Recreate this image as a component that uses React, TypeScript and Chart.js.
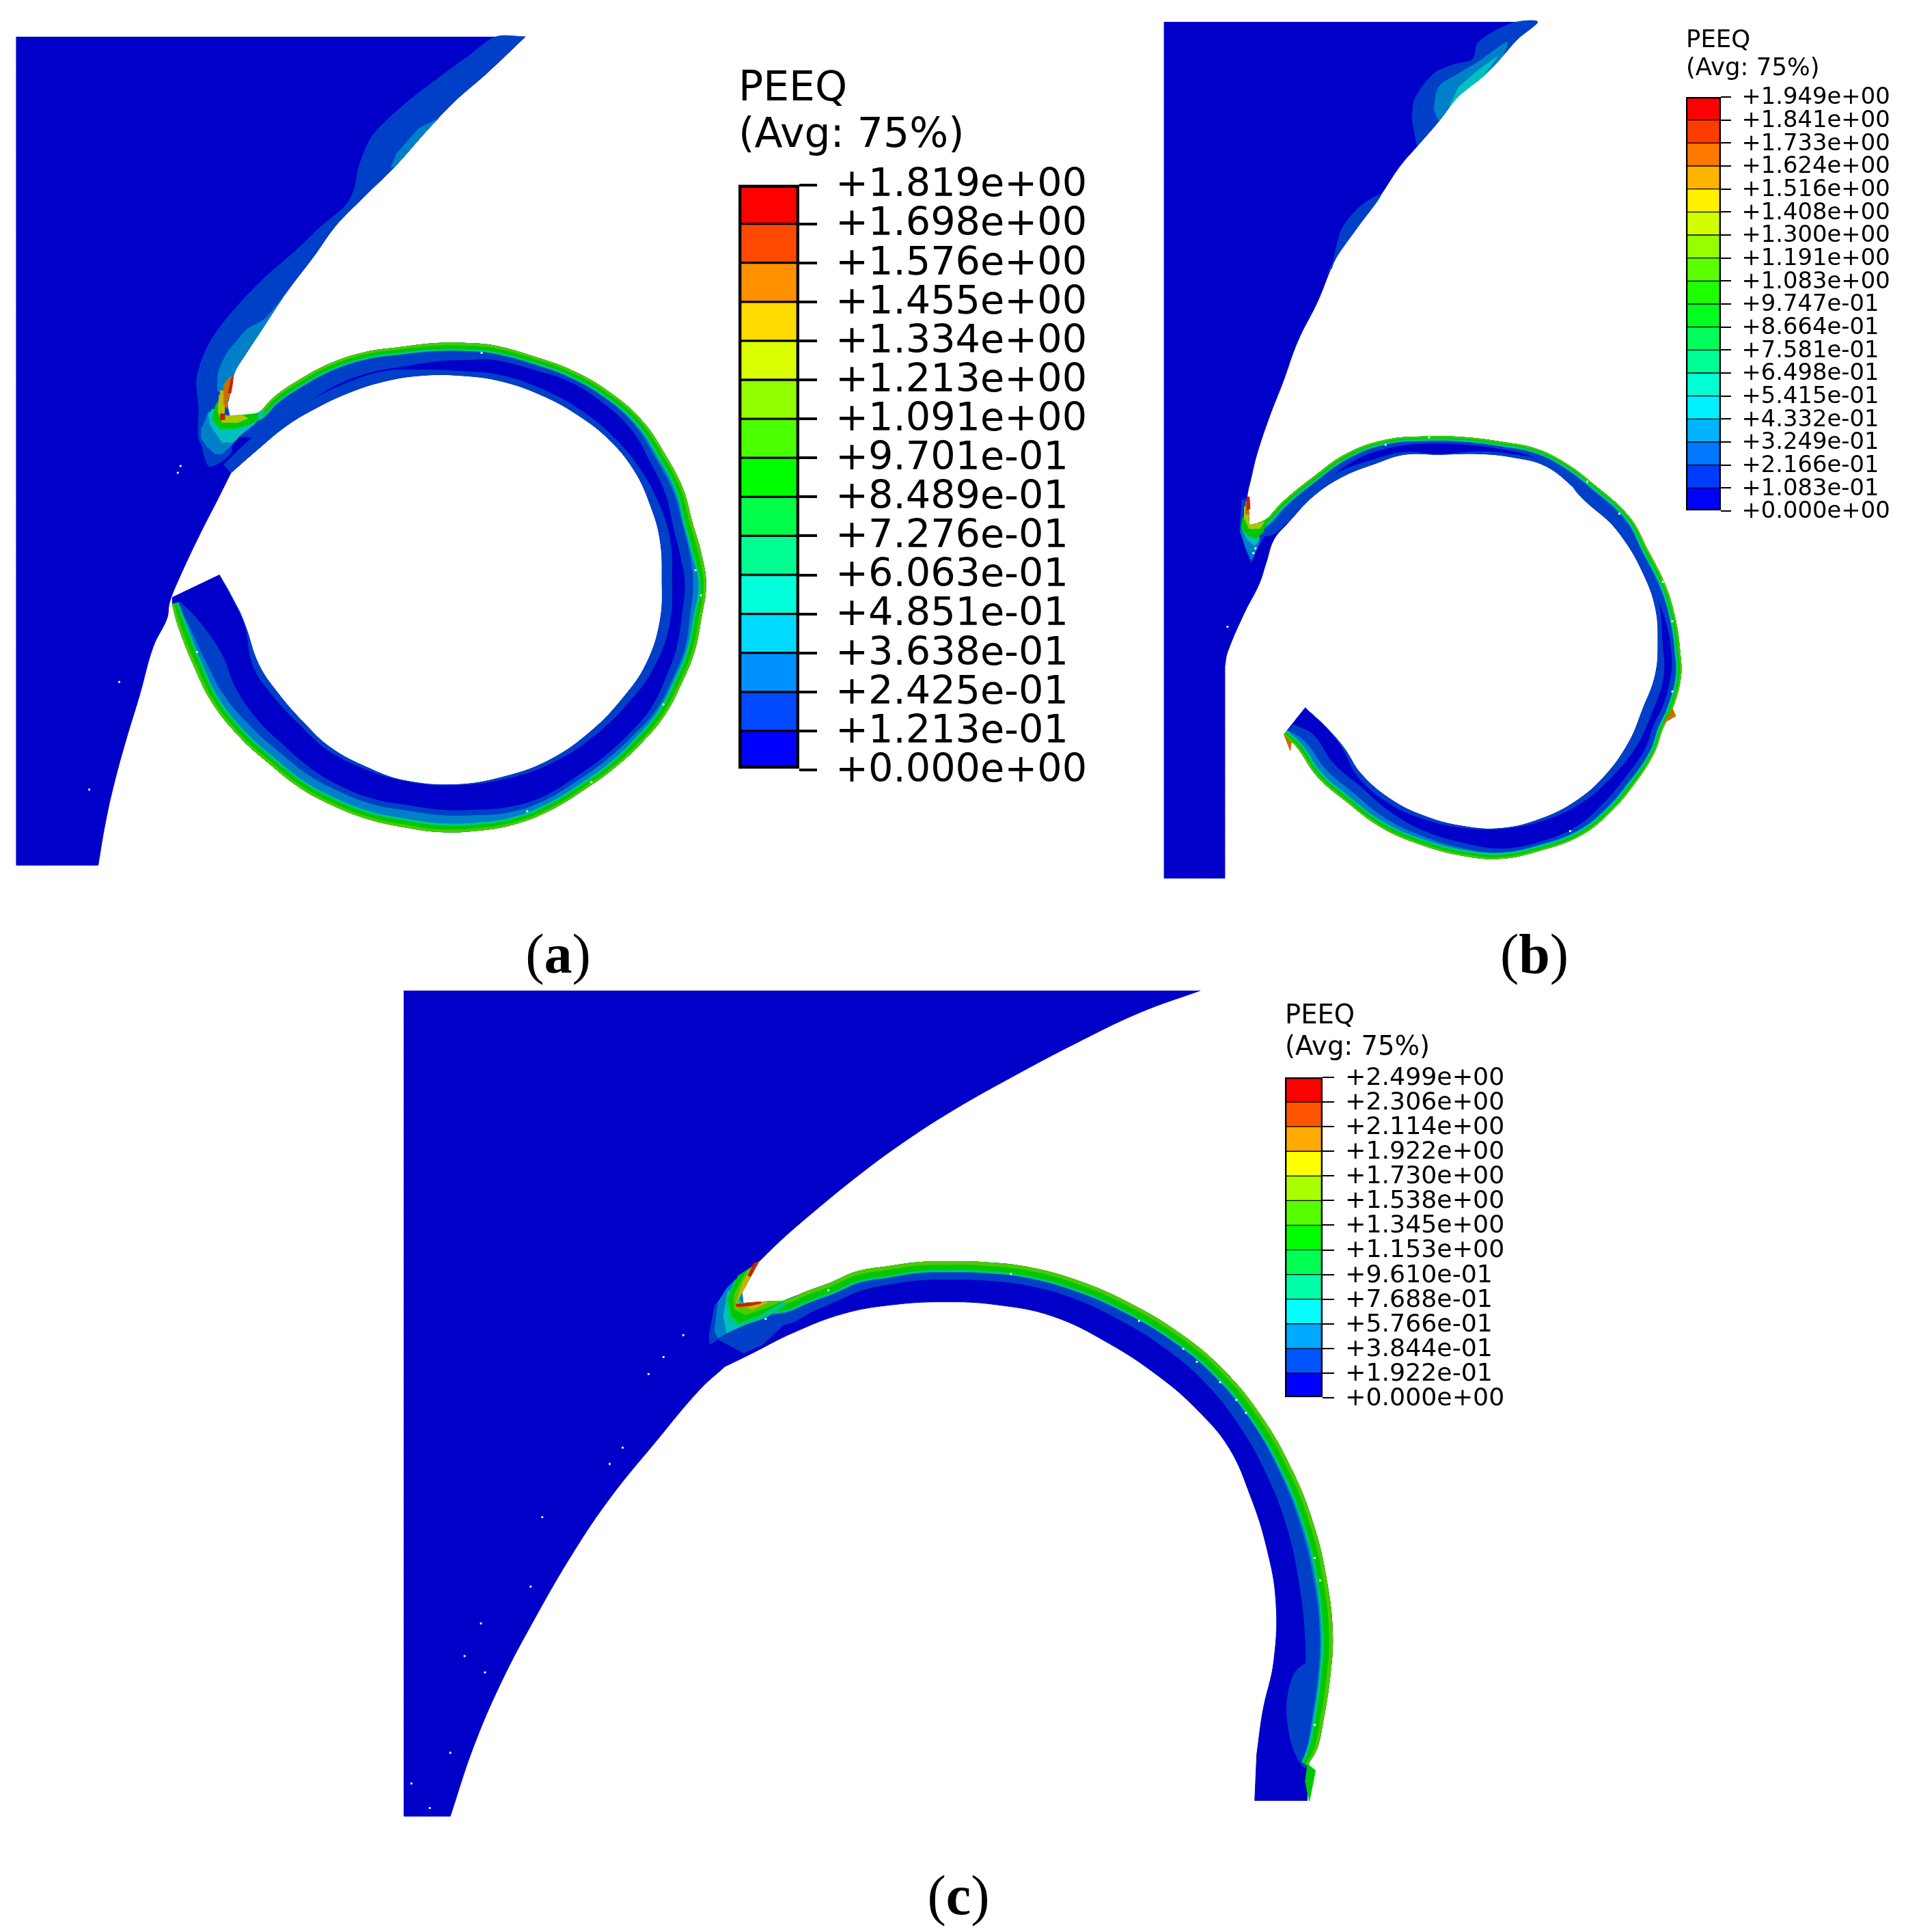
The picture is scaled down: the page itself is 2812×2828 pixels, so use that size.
import React, { useEffect, useRef } from "react";
import { Chart, registerables } from "chart.js";

Chart.register(...registerables);

type P = number[];

// ---------- colour contour bands ----------
const DARK = "#0000c8";
const BLUE = "#0040c8";
const SKY = "#0080c8";
const CYAN = "#00c0c0";
const TEAL = "#00c880";
const GREEN = "#00c800";
const LIME = "#50c800";
const OLIVE = "#aac800";
const YELLOW = "#c8b400";
const ORANGE = "#c87000";
const RED = "#c82000";

// ---------- legends ----------
const aLabels = ["+1.819e+00", "+1.698e+00", "+1.576e+00", "+1.455e+00", "+1.334e+00", "+1.213e+00", "+1.091e+00", "+9.701e-01", "+8.489e-01", "+7.276e-01", "+6.063e-01", "+4.851e-01", "+3.638e-01", "+2.425e-01", "+1.213e-01", "+0.000e+00"];
const bLabels = ["+1.949e+00", "+1.841e+00", "+1.733e+00", "+1.624e+00", "+1.516e+00", "+1.408e+00", "+1.300e+00", "+1.191e+00", "+1.083e+00", "+9.747e-01", "+8.664e-01", "+7.581e-01", "+6.498e-01", "+5.415e-01", "+4.332e-01", "+3.249e-01", "+2.166e-01", "+1.083e-01", "+0.000e+00"];
const cLabels = ["+2.499e+00", "+2.306e+00", "+2.114e+00", "+1.922e+00", "+1.730e+00", "+1.538e+00", "+1.345e+00", "+1.153e+00", "+9.610e-01", "+7.688e-01", "+5.766e-01", "+3.844e-01", "+1.922e-01", "+0.000e+00"];
const aColors = ["#ff0000", "#ff4900", "#ff9100", "#ffda00", "#daff00", "#91ff00", "#49ff00", "#00ff00", "#00ff49", "#00ff91", "#00ffda", "#00daff", "#0091ff", "#0049ff", "#0000ff"];
const bColors = ["#ff0000", "#ff3c00", "#ff7800", "#ffb400", "#fff000", "#d2ff00", "#96ff00", "#5aff00", "#1eff00", "#00ff1e", "#00ff5a", "#00ff96", "#00ffd2", "#00f0ff", "#00b4ff", "#0078ff", "#003cff", "#0000ff"];
const cColors = ["#ff0000", "#ff5500", "#ffaa00", "#ffff00", "#aaff00", "#55ff00", "#00ff00", "#00ff55", "#00ffaa", "#00ffff", "#00aaff", "#0055ff", "#0000ff"];

// ---------- panel (a) outline ----------
const aCorners: P[] = [[20, 1266], [20, 50]];
const aUpperEdge: P[] = [[767, 50], [710, 104], [663, 145], [623, 187], [576, 240], [529, 286], [489, 327], [456, 373], [415, 427], [382, 477], [355, 518], [340, 543], [335, 565], [330, 587], [325, 607]];
const aRingOuter: P[] = [[335, 607], [373, 603], [397, 580], [430, 557], [480, 530], [533, 513], [583, 506], [636, 500], [683, 500], [724, 504], [784, 521], [838, 541], [891, 572], [938, 613], [972, 663], [998, 713], [1012, 763], [1025, 808], [1032, 854], [1025, 904], [1015, 953], [998, 995], [972, 1045], [938, 1086], [898, 1123], [858, 1152], [804, 1185], [750, 1206], [697, 1215], [643, 1217], [590, 1210], [536, 1198], [482, 1177], [436, 1152], [389, 1115], [348, 1078], [308, 1028], [281, 974], [258, 916], [249, 883]];
const aRingCut: P[] = [[249, 873], [318, 840]];
const aRingInner: P[] = [[318, 840], [335, 870], [355, 912], [375, 970], [402, 1011], [442, 1057], [482, 1094], [536, 1123], [590, 1142], [663, 1148], [737, 1136], [804, 1111], [864, 1069], [911, 1020], [945, 970], [965, 908], [968, 846], [965, 788], [951, 738], [928, 688], [891, 642], [844, 605], [791, 576], [730, 555], [670, 547], [616, 547], [563, 555], [509, 572], [456, 597], [415, 622], [375, 655], [335, 690]];
const aLowerEdge: P[] = [[335, 690], [315, 730], [288, 783], [258, 847], [245, 880], [241, 904], [221, 945], [201, 1016], [181, 1082], [164, 1144], [151, 1202], [140, 1266]];
const aBlueDepth = [30, 35, 36, 34, 32, 30, 28, 26, 24, 20, 18, 16, 18, 20, 24, 26, 28, 30, 30, 28, 26, 24, 22, 22, 22, 22, 22, 26, 30, 32, 32, 30, 30, 32, 34, 36, 40, 44, 30, 12];
const aSkyDepth = [10, 10, 10, 10, 10, 10, 10, 10, 9, 9, 10, 10, 10, 12, 14, 14, 14, 16, 18, 16, 14, 14, 14, 16, 16, 16, 16, 18, 22, 24, 24, 22, 22, 22, 22, 22, 20, 18, 14, 6];
const aGreenDepth = [7, 7, 7, 7, 7, 7, 7, 8, 8, 8, 7, 7, 7, 7, 8, 8, 9, 10, 7, 8, 8, 8, 8, 8, 7, 7, 7, 7, 8, 9, 9, 8, 8, 8, 8, 8, 8, 9, 9, 6];
const aInnerBlueDepth = [0, 0, 0, 8, 8, 6, 5, 3, 0, 0, 3, 5, 8, 10, 12, 14, 14, 14, 12, 8, 7, 8, 8, 8, 6, 8, 14, 14, 14, 16, 18, 16];
const aUpperBlue: P[] = [[767, 50], [724, 50], [683, 79], [643, 108], [590, 149], [543, 195], [523, 240], [516, 274], [503, 298], [469, 327], [429, 365], [382, 406], [335, 456], [302, 502], [285, 551], [288, 597], [287, 637], [292, 650], [302, 680], [315, 677], [335, 660], [335, 620], [328, 572], [338, 543], [355, 518], [382, 477], [415, 427], [456, 373], [489, 327], [529, 286], [576, 240], [623, 187], [663, 145], [710, 104]];
const aUpperSkyTop: P[] = [[640, 170], [610, 185], [578, 222], [570, 242], [576, 240], [623, 187]];
const aUpperSkyLow: P[] = [[402, 444], [385, 464], [358, 480], [343, 497], [330, 513], [320, 533], [316, 547], [316, 570], [322, 572], [330, 587], [335, 565], [340, 543], [355, 518], [382, 477], [415, 427]];
const aNotchSky: P[] = [[302, 600], [296, 617], [292, 625], [292, 640], [300, 652], [312, 662], [322, 662], [335, 650], [345, 640], [345, 620], [330, 610]];
const aNotchTeal: P[] = [[308, 596], [302, 605], [305, 620], [315, 635], [322, 645], [338, 645], [352, 632], [370, 618], [385, 600], [340, 610]];
const aNotchGreen: P[] = [[316, 585], [311, 595], [308, 612], [318, 625], [340, 625], [365, 618], [375, 612], [375, 603], [335, 607], [325, 607], [322, 590]];
const aNotchLime: P[] = [[318, 575], [316, 600], [322, 616], [345, 616], [360, 610], [350, 605], [325, 607], [327, 580]];
const aNotchYellow: P[] = [[320, 569], [320, 587], [325, 596], [327, 583], [326, 569]];
const aNotchOrange: P[] = [[333, 550], [325, 560], [325, 590], [330, 596], [330, 587], [335, 565], [339, 547]];
const aNotchRed: P[] = [[339, 547], [335, 553], [331, 573], [335, 573], [338, 555]];
const aNotchRedLow: P[] = [[320, 603], [320, 612], [326, 612], [326, 603]];
const aSpecks: P[] = [[261, 680], [257, 690], [171, 997], [127, 1155], [770, 1187], [864, 1144], [970, 1030], [1017, 833], [1025, 870], [285, 953], [703, 514]];

// ---------- panel (b) outline ----------
const bCornerFootRight: P[] = [[1794, 974], [1794, 1285]];
const bCornerFootLeft: P[] = [[1794, 1285], [1705, 1285]];
const bCornerLeft: P[] = [[1705, 1285], [1705, 28]];
const bUpperEdge: P[] = [[2253, 28], [2223, 54], [2201, 79], [2173, 108], [2137, 137], [2108, 174], [2076, 211], [2051, 240], [2023, 282], [1987, 332], [1958, 373], [1930, 439], [1901, 497], [1880, 555], [1859, 609], [1841, 663], [1832, 700], [1828, 717], [1827, 727], [1830, 767]];
const bRingOuter: P[] = [[1840, 765], [1853, 760], [1880, 732], [1923, 697], [1973, 662], [2030, 642], [2087, 637], [2144, 638], [2201, 645], [2251, 655], [2294, 676], [2333, 705], [2387, 754], [2415, 804], [2440, 854], [2455, 904], [2462, 953], [2463, 991], [2451, 1036], [2437, 1065], [2423, 1103], [2394, 1148], [2358, 1190], [2315, 1223], [2258, 1244], [2201, 1256], [2144, 1252], [2080, 1235], [2023, 1210], [1973, 1173], [1930, 1136], [1901, 1094], [1881, 1074]];
const bRingCut: P[] = [[1881, 1074], [1912, 1035]];
const bRingInner: P[] = [[1912, 1035], [1944, 1065], [1969, 1094], [1994, 1132], [2037, 1169], [2087, 1194], [2144, 1209], [2201, 1212], [2258, 1198], [2308, 1173], [2351, 1136], [2387, 1086], [2408, 1036], [2426, 987], [2430, 937], [2426, 887], [2408, 837], [2380, 788], [2344, 746], [2308, 713], [2265, 680], [2216, 667], [2166, 662], [2108, 663], [2058, 663], [2016, 676], [1966, 696], [1923, 725], [1887, 763]];
const bLowerEdge: P[] = [[1887, 763], [1866, 788], [1855, 821], [1844, 854], [1823, 895], [1798, 953], [1794, 974]];
const bBlueDepth = [20, 24, 24, 18, 14, 12, 10, 10, 10, 12, 14, 26, 26, 20, 18, 14, 12, 14, 14, 14, 14, 16, 16, 14, 12, 14, 18, 20, 26, 30, 30, 30, 20];
const bSkyDepth = [8, 9, 8, 7, 6, 5, 5, 5, 5, 5, 6, 7, 7, 8, 8, 7, 6, 6, 6, 6, 6, 8, 8, 8, 8, 8, 10, 12, 14, 16, 16, 14, 8];
const bGreenDepth = [4, 4, 4, 4, 4, 3, 3, 3, 3, 3, 3, 3, 3, 4, 4, 4, 4, 4, 4, 3, 3, 4, 4, 4, 4, 5, 5, 5, 5, 5, 5, 5, 4];
const bInnerBlueDepth = [0, 0, 2, 6, 6, 4, 2, 0, 3, 6, 8, 12, 14, 12, 6, 6, 12, 14, 12, 10, 6, 4, 3, 0, 3, 6, 8, 10, 10];
const bSpikeEast: P[] = [[2437, 1060], [2451, 1036], [2456, 1047], [2444, 1054]];
const bSpikeWest: P[] = [[1881, 1074], [1890, 1098], [1892, 1085]];
const bTopBlue: P[] = [[2069, 174], [2073, 141], [2101, 104], [2130, 91], [2158, 83], [2166, 58], [2216, 30], [2253, 28], [2223, 54], [2201, 79], [2173, 108], [2137, 137], [2108, 174], [2076, 211]];
const bTopSky: P[] = [[2101, 158], [2108, 124], [2137, 104], [2166, 87], [2208, 58], [2201, 79], [2173, 108], [2137, 137], [2108, 174]];
const bTopTeal: P[] = [[2137, 124], [2166, 99], [2194, 79], [2173, 108], [2137, 137], [2123, 153]];
const bMidBlue: P[] = [[1951, 390], [1966, 332], [1994, 298], [2023, 282], [1987, 332], [1958, 373], [1944, 398]];
const bNotchBlue: P[] = [[1819, 730], [1816, 775], [1825, 803], [1833, 822], [1842, 800], [1860, 770], [1853, 760], [1840, 765], [1830, 767], [1827, 727]];
const bNotchSky: P[] = [[1817, 775], [1825, 800], [1833, 818], [1840, 803], [1845, 790], [1830, 770]];
const bNotchTeal: P[] = [[1818, 770], [1827, 788], [1838, 797], [1845, 787], [1838, 770]];
const bNotchGreen: P[] = [[1820, 757], [1818, 772], [1828, 782], [1840, 787], [1850, 777], [1858, 757], [1853, 760], [1840, 765], [1830, 767], [1827, 745]];
const bNotchLime: P[] = [[1823, 740], [1823, 757], [1830, 772], [1845, 772], [1852, 762], [1840, 765], [1830, 767], [1827, 735]];
const bNotchOrange: P[] = [[1825, 732], [1825, 750], [1830, 752], [1828, 735]];
const bNotchRed: P[] = [[1827, 725], [1827, 745], [1831, 743], [1830, 725]];
const bSpecks: P[] = [[1798, 916], [2030, 649], [2094, 638], [2326, 703], [2373, 750], [2437, 850], [2451, 908], [2451, 1011], [2301, 1216], [1839, 801], [1836, 808]];

// ---------- panel (c) outline ----------
const cCorners: P[] = [[589, 2662], [589, 1450]];
const cCornerBase: P[] = [[657, 2662], [589, 2662]];
const cUpperEdge: P[] = [[1758, 1450], [1670, 1482], [1578, 1526], [1485, 1575], [1393, 1627], [1319, 1675], [1254, 1723], [1189, 1776], [1143, 1816], [1110, 1848]];
const cNotchUp: P[] = [[1110, 1848], [1076, 1910]];
const cNotchLow: P[] = [[1076, 1910], [1113, 1907]];
const cRingOuter: P[] = [[1113, 1907], [1145, 1906], [1180, 1892], [1213, 1880], [1253, 1863], [1300, 1855], [1346, 1849], [1392, 1848], [1439, 1849], [1504, 1856], [1578, 1876], [1652, 1908], [1726, 1952], [1790, 2005], [1846, 2073], [1892, 2153], [1924, 2234], [1943, 2314], [1952, 2394], [1948, 2459], [1938, 2523], [1929, 2563], [1915, 2587]];
const cFootEast: P[] = [[1915, 2587], [1915, 2639]];
const cFootBase: P[] = [[1915, 2639], [1838, 2639]];
const cFootWest: P[] = [[1838, 2639], [1841, 2571]];
const cRingInner: P[] = [[1841, 2571], [1850, 2507], [1866, 2434], [1869, 2346], [1855, 2266], [1832, 2193], [1800, 2121], [1753, 2065], [1698, 2017], [1624, 1968], [1541, 1928], [1457, 1911], [1383, 1907], [1309, 1911], [1235, 1924], [1161, 1952], [1097, 1984], [1060, 2002]];
const cLowerEdge: P[] = [[1060, 2002], [1022, 2037], [958, 2113], [893, 2193], [838, 2274], [782, 2370], [731, 2467], [690, 2563], [657, 2662]];
const cBlueDepth = [34, 34, 30, 28, 28, 26, 26, 26, 26, 26, 26, 28, 30, 32, 34, 36, 38, 40, 40, 36, 34, 30, 16];
const cSkyDepth = [18, 17, 16, 16, 16, 15, 15, 15, 15, 15, 15, 15, 15, 16, 16, 17, 18, 18, 18, 17, 16, 14, 8];
const cGreenDepth = [13, 13, 13, 13, 13, 13, 12, 12, 12, 12, 12, 12, 12, 12, 12, 12, 12, 12, 13, 12, 11, 10, 6];
const cFootBlue: P[] = [[1925, 2430], [1897, 2451], [1885, 2499], [1892, 2555], [1911, 2591], [1925, 2570]];
const cFootGreen: P[] = [[1915, 2585], [1927, 2595], [1918, 2640], [1912, 2610]];
const cNotchBlue: P[] = [[1103, 1853], [1045, 1912], [1037, 1957], [1038, 1969], [1050, 1962], [1088, 1982], [1115, 1970], [1147, 1940], [1217, 1900], [1213, 1880], [1180, 1892], [1145, 1906], [1113, 1907], [1076, 1910], [1110, 1848]];
const cNotchSky: P[] = [[1077, 1873], [1063, 1887], [1050, 1908], [1045, 1950], [1050, 1960], [1065, 1952], [1090, 1935], [1085, 1890]];
const cNotchCyan: P[] = [[1065, 1890], [1058, 1927], [1063, 1952], [1080, 1945], [1100, 1935], [1080, 1900]];
const cNotchTeal: P[] = [[1075, 1875], [1062, 1905], [1066, 1935], [1082, 1943], [1120, 1930], [1150, 1912], [1145, 1906], [1113, 1907], [1076, 1910], [1088, 1888]];
const cNotchGreen: P[] = [[1080, 1868], [1065, 1903], [1070, 1927], [1080, 1938], [1110, 1927], [1143, 1908], [1145, 1906], [1113, 1907], [1076, 1910], [1103, 1853]];
const cNotchLime: P[] = [[1092, 1862], [1074, 1895], [1074, 1918], [1090, 1926], [1125, 1914], [1143, 1906], [1113, 1907], [1076, 1910], [1110, 1848]];
const cNotchYellow: P[] = [[1100, 1855], [1087, 1877], [1077, 1907], [1100, 1918], [1123, 1908], [1113, 1907], [1076, 1910], [1110, 1848]];
const cNotchRedLow: P[] = [[1076, 1910], [1078, 1914], [1095, 1913], [1113, 1909], [1113, 1907]];
const cNotchRedTop: P[] = [[1110, 1848], [1103, 1850], [1094, 1868], [1098, 1870]];
const cSpecks: P[] = [[999, 1956], [970, 1988], [948, 2013], [910, 2121], [891, 2145], [792, 2223], [775, 2325], [702, 2379], [678, 2427], [708, 2451], [657, 2569], [600, 2614], [627, 2650], [1480, 1866], [1668, 1935], [1733, 1976], [1753, 1995], [1787, 2025], [1811, 2051], [1825, 2070], [1926, 2283], [1934, 2316], [1926, 2528], [1120, 1932], [1212, 1890]];

// Contour line lying a read-off distance inside a boundary curve
function inset(curve: P[], depths: number[]): P[] {
  return curve.map((p, i) => {
    const a = curve[Math.max(i - 1, 0)];
    const b = curve[Math.min(i + 1, curve.length - 1)];
    const dx = b[0] - a[0];
    const dy = b[1] - a[1];
    const len = Math.hypot(dx, dy) || 1;
    return [p[0] - (dy / len) * depths[i], p[1] + (dx / len) * depths[i]];
  });
}
// A repeated end point keeps the joint between two curves sharp when the line is smoothed
const run = (c: P[]): P[] => [c[0], ...c, c[c.length - 1]];
const outline = (...runs: P[][]): P[] => runs.flatMap(run);
const band = (curve: P[], depths: number[]): P[] => outline(curve, inset(curve, depths).reverse());

const SMOOTH = 0.4;

const shape = (pts: P[], color: string, tension = 0) => ({
  data: pts.map(([x, y]) => ({ x, y })),
  showLine: true,
  fill: "shape",
  backgroundColor: color,
  borderColor: color,
  borderWidth: 1,
  pointRadius: 0,
  tension,
});

const specks = (pts: P[]) => ({
  data: pts.map(([x, y]) => ({ x, y })),
  showLine: false,
  pointStyle: "rect",
  pointRadius: 2,
  pointBackgroundColor: "#ffffff",
  pointBorderWidth: 0,
});

function ringLayers(outer: P[], blue: number[], sky: number[], green: number[]) {
  const plus = (d: number[], k: number) => d.map((v) => v + k);
  const part = (d: number[], k: number) => d.map((v) => v * k);
  return [
    shape(band(outer, blue), BLUE, SMOOTH),
    shape(band(outer, sky), SKY, SMOOTH),
    shape(band(outer, plus(green, 3)), TEAL, SMOOTH),
    shape(band(outer, green), GREEN, SMOOTH),
    shape(band(outer, part(green, 0.35)), LIME, SMOOTH),
  ];
}

const layers = [
  // panel a
  shape(outline(aUpperEdge, aRingOuter, aRingCut, aRingInner, aLowerEdge, aCorners), DARK, SMOOTH),
  shape(aUpperBlue, BLUE, 0.3),
  shape(aUpperSkyTop, SKY),
  shape(aUpperSkyLow, SKY, 0.3),
  shape(band(aRingInner, aInnerBlueDepth), BLUE, SMOOTH),
  ...ringLayers(aRingOuter, aBlueDepth, aSkyDepth, aGreenDepth),
  shape(aNotchSky, SKY),
  shape(aNotchTeal, CYAN),
  shape(aNotchGreen, GREEN),
  shape(aNotchLime, OLIVE),
  shape(aNotchYellow, YELLOW),
  shape(aNotchOrange, ORANGE),
  shape(aNotchRed, RED),
  shape(aNotchRedLow, RED),
  specks(aSpecks),
  // panel b
  shape(outline(bUpperEdge, bRingOuter, bRingCut, bRingInner, bLowerEdge, bCornerFootRight, bCornerFootLeft, bCornerLeft), DARK, SMOOTH),
  shape(bTopBlue, BLUE, 0.3),
  shape(bTopSky, SKY, 0.3),
  shape(bTopTeal, CYAN),
  shape(bMidBlue, BLUE, 0.3),
  shape(band(bRingInner, bInnerBlueDepth), BLUE, SMOOTH),
  shape(bNotchBlue, BLUE),
  ...ringLayers(bRingOuter, bBlueDepth, bSkyDepth, bGreenDepth),
  shape(bSpikeEast, ORANGE),
  shape(bSpikeWest, ORANGE),
  shape(bNotchSky, SKY),
  shape(bNotchTeal, CYAN),
  shape(bNotchGreen, GREEN),
  shape(bNotchLime, OLIVE),
  shape(bNotchOrange, ORANGE),
  shape(bNotchRed, RED),
  specks(bSpecks),
  // panel c
  shape(outline(cUpperEdge, cNotchUp, cNotchLow, cRingOuter, cFootEast, cFootBase, cFootWest, cRingInner, cLowerEdge, cCornerBase, cCorners), DARK, SMOOTH),
  shape(cFootBlue, BLUE, 0.3),
  shape(cNotchBlue, BLUE),
  ...ringLayers(cRingOuter, cBlueDepth, cSkyDepth, cGreenDepth),
  shape(cFootGreen, GREEN),
  shape(cNotchSky, SKY),
  shape(cNotchCyan, CYAN),
  shape(cNotchTeal, TEAL),
  shape(cNotchGreen, GREEN),
  shape(cNotchLime, LIME),
  shape(cNotchYellow, YELLOW),
  shape(cNotchRedLow, RED),
  shape(cNotchRedTop, RED),
  specks(cSpecks),
];

function Contours() {
  const ref = useRef<HTMLCanvasElement>(null);
  useEffect(() => {
    const chart = new Chart(ref.current!, {
      type: "scatter",
      // Chart.js paints the first dataset last, so the stack is handed over top-first
      data: { datasets: [...layers].reverse() as any },
      options: {
        animation: false,
        responsive: false,
        events: [],
        layout: { padding: 0 },
        plugins: { legend: { display: false }, tooltip: { enabled: false }, title: { display: false } },
        scales: {
          x: { type: "linear", min: 0, max: 2812, display: false },
          y: { type: "linear", min: 0, max: 2828, reverse: true, display: false },
        },
      },
    });
    return () => chart.destroy();
  }, []);
  return <canvas ref={ref} width={2812} height={2828} style={{ position: "absolute", left: 0, top: 0 }} />;
}

type LegendProps = {
  labels: string[];
  colors: string[];
  left: number;
  top: number;
  boxW: number;
  boxH: number;
  tickLen: number;
  tickGap: number;
  tickFont: number;
  tickShift: number;
  titleFont: number;
  titleLine: number;
  titleGap: number;
  lineW: number;
};

function Legend(p: LegendProps) {
  const ref = useRef<HTMLCanvasElement>(null);
  const W = 2812 - p.left;
  const H = p.titleLine * 2 + p.titleGap + p.boxH + 40;
  useEffect(() => {
    const n = p.colors.length;
    const common = { barPercentage: 1, categoryPercentage: 1, grouped: false, borderSkipped: false, borderColor: "#000000" };
    const chart = new Chart(ref.current!, {
      type: "bar",
      data: {
        labels: ["PEEQ"],
        datasets: [
          { ...common, data: [[0, n]], backgroundColor: "transparent", borderWidth: p.lineW },
          ...p.colors.map((c, i) => ({
            ...common,
            data: [[n - i - 1, n - i]],
            backgroundColor: c,
            borderWidth: p.lineW / 2,
          })),
        ] as any,
      },
      options: {
        animation: false,
        responsive: false,
        events: [],
        layout: { padding: { bottom: 40 } },
        plugins: {
          legend: { display: false },
          tooltip: { enabled: false },
          title: {
            display: true,
            text: ["PEEQ", "(Avg: 75%)"],
            align: "start",
            color: "#000000",
            font: { family: "DejaVu Sans", size: p.titleFont, weight: "normal", lineHeight: p.titleLine / p.titleFont },
            padding: { top: 0, bottom: p.titleGap },
          },
        },
        scales: {
          x: { display: false },
          y: {
            type: "linear",
            position: "right",
            min: 0,
            max: n,
            afterFit: (s: any) => {
              s.width = W - p.boxW;
              s.paddingTop = 0;
              s.paddingBottom = 0;
            },
            border: { display: false },
            grid: { drawOnChartArea: false, color: "#000000", lineWidth: p.lineW, tickLength: p.tickLen },
            ticks: {
              stepSize: 1,
              maxTicksLimit: 40,
              autoSkip: false,
              padding: p.tickGap,
              labelOffset: p.tickShift,
              color: "#000000",
              font: { family: "DejaVu Sans", size: p.tickFont },
              callback: (v: any) => p.labels[n - Number(v)],
            },
          },
        },
      },
    });
    return () => chart.destroy();
  }, []);
  return <canvas ref={ref} width={W} height={H} style={{ position: "absolute", left: p.left, top: p.top }} />;
}

const captionStyle = (x: number, y: number): React.CSSProperties => ({
  position: "absolute",
  left: x,
  top: y,
  transform: "translate(-50%, -50%)",
  fontFamily: "'Liberation Serif', serif",
  fontSize: 82,
  lineHeight: 1,
  color: "#000",
  whiteSpace: "nowrap",
});

function Caption({ x, y, letter }: { x: number; y: number; letter: string }) {
  return (
    <span style={captionStyle(x, y)}>
      (<b>{letter}</b>)
    </span>
  );
}

export default function App() {
  return (
    <div style={{ position: "absolute", left: 0, top: 0, width: 2812, height: 2828, background: "#fff", overflow: "hidden" }}>
      <Contours />
      <Legend labels={aLabels} colors={aColors} left={1081} top={98} boxW={89} boxH={856.5} tickLen={26} tickGap={27} tickFont={57.3} tickShift={2} titleFont={60} titleLine={67.5} titleGap={37.5} lineW={4} />
      <Legend labels={bLabels} colors={bColors} left={2468} top={39} boxW={51} boxH={606.5} tickLen={15} tickGap={15.5} tickFont={33.8} tickShift={1.5} titleFont={35.5} titleLine={41} titleGap={21} lineW={2} />
      <Legend labels={cLabels} colors={cColors} left={1881} top={1465} boxW={55} boxH={469} tickLen={17} tickGap={16} tickFont={36.3} tickShift={1.5} titleFont={38.5} titleLine={46} titleGap={20} lineW={2} />
      <Caption x={817} y={1397} letter="a" />
      <Caption x={2246} y={1397} letter="b" />
      <Caption x={1403} y={2775} letter="c" />
    </div>
  );
}
